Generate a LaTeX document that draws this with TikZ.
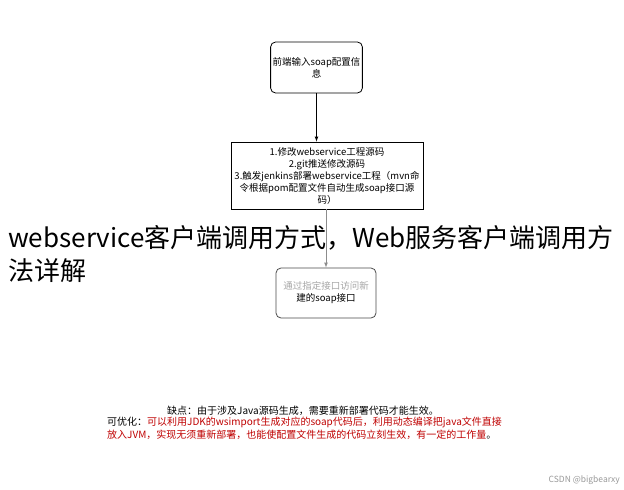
\documentclass[tikz,border=0pt]{standalone}
\usepackage{fontspec}
\setmainfont{Noto Sans CJK SC}
\XeTeXlinebreaklocale "zh"
\begin{document}
\begin{tikzpicture}[x=1pt,y=-1pt,
  boxs/.style={draw,line width=0.8pt,align=center,font=\fontsize{9.5}{12}\selectfont,inner sep=2pt},
  arr/.style={-latex,line width=0.7pt}]
\useasboundingbox[fill=white] (0,0) rectangle (624,490);
\node[boxs,rounded corners=5pt,minimum width=83pt,minimum height=51pt] (a) at (316.5,67.5) {前端输入soap配置信\\息};
\node[boxs,minimum width=192pt,minimum height=67pt] (b) at (327,175.5) {1.修改webservice工程源码\\2.git推送修改源码\\3.触发jenkins部署webservice工程（mvn命\\令根据pom配置文件自动生成soap接口源\\码）};
\node[boxs,draw=black!70,rounded corners=5pt,minimum width=100pt,minimum height=50pt] (c) at (326,293) {\textcolor{black!35}{通过指定接口访问新}\\建的soap接口};
\draw[arr] (a.south) -- (a.south|-b.north);
\draw[arr,draw=black!45] (c|-b.south) -- (c.north);
\node[anchor=west,font=\fontsize{26}{33}\selectfont,inner sep=0,align=left] (t) at (8,254) {webservice客户端调用方式，Web服务客户端调用方\\法详解};
\node[font=\fontsize{10}{12}\selectfont,inner sep=0] (d1) at (303,411) {缺点：由于涉及Java源码生成，需要重新部署代码才能生效。};
\node[anchor=north west,font=\fontsize{10}{13}\selectfont,inner sep=0,align=left] (d2) at (107,417) {可优化：\textcolor{red!75!black}{可以利用JDK的wsimport生成对应的soap代码后，利用动态编译把java文件直接}\\\textcolor{red!75!black}{放入JVM，实现无须重新部署，也能使配置文件生成的代码立刻生效，有一定的工作量}。};
\node[anchor=east,font=\fontsize{8.5}{10}\selectfont,text=black!40,inner sep=0] (w) at (620,480) {CSDN @bigbearxy};
\end{tikzpicture}
\end{document}
